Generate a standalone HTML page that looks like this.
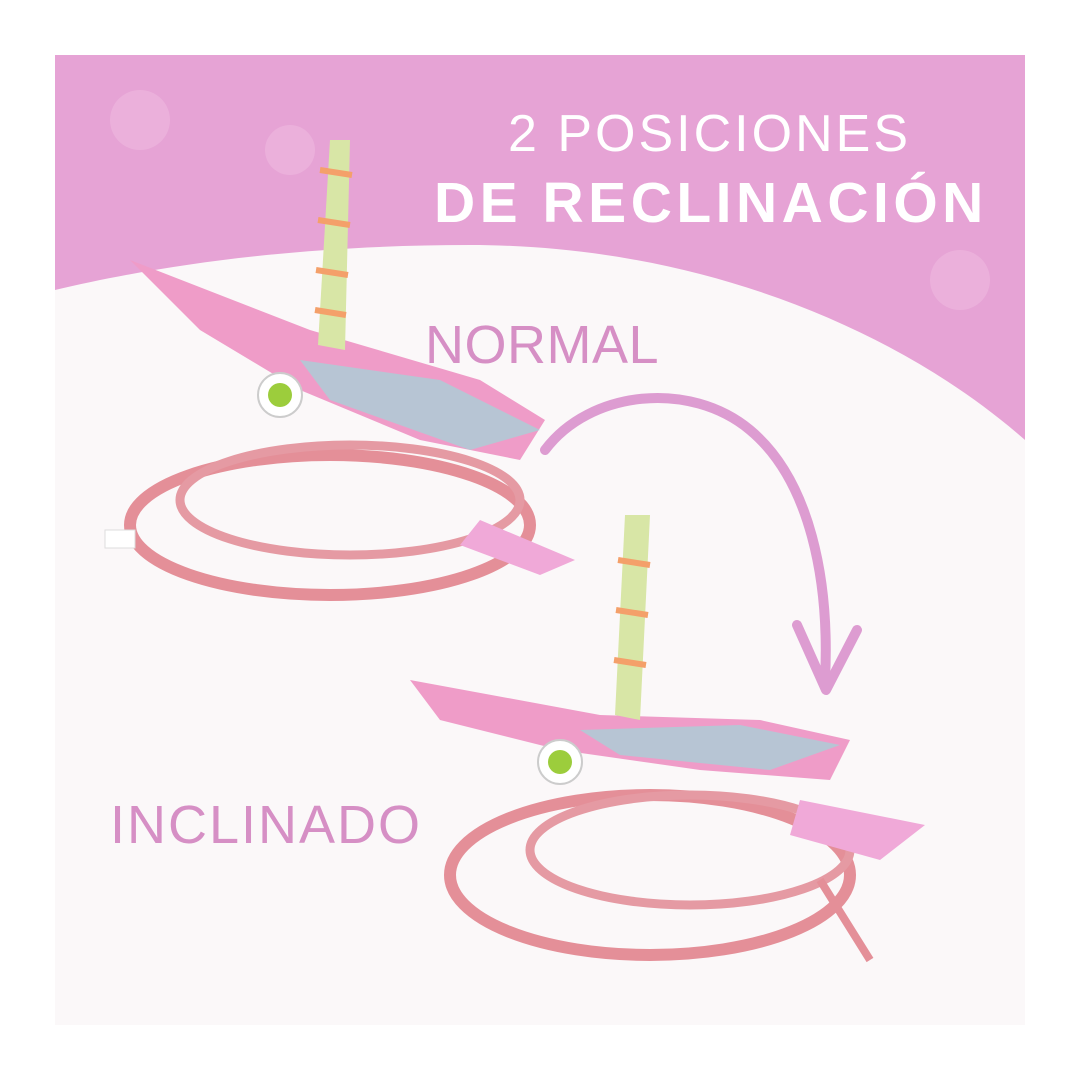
<!DOCTYPE html>
<html><head><meta charset="utf-8"><style>
html,body{margin:0;padding:0;background:#fff;}
.wrap{position:relative;width:1080px;height:1080px;overflow:hidden;background:#fff;font-family:"Liberation Sans",sans-serif;}
.t{position:absolute;white-space:nowrap;}
</style></head><body><div class="wrap">
<svg width="1080" height="1080" style="position:absolute;left:0;top:0">
<rect x="55" y="55" width="970" height="970" fill="#fbf8f9"/>
<path d="M55 55 H1025 V440 C900 330 700 245 470 245 C300 245 160 265 55 290 Z" fill="#e6a3d5"/>
<g fill="#eeb9e0" opacity="0.6">
<circle cx="140" cy="120" r="30"/><circle cx="290" cy="150" r="25"/><circle cx="960" cy="280" r="30"/>
</g>
<path d="M545 450 C590 390 690 380 750 430 C810 480 830 580 825 680" fill="none" stroke="#dd9cd1" stroke-width="10" stroke-linecap="round"/>
<path d="M797 625 L826 690 L857 630" fill="none" stroke="#dd9cd1" stroke-width="10" stroke-linecap="round" stroke-linejoin="round"/>
<g>
<ellipse cx="330" cy="525" rx="200" ry="70" fill="none" stroke="#e48f98" stroke-width="12"/>
<ellipse cx="350" cy="500" rx="170" ry="55" fill="none" stroke="#e59aa3" stroke-width="9"/>
<path d="M130 260 L310 330 L480 380 L545 420 L520 460 L420 440 L300 390 L200 330 Z" fill="#ef9cc8"/>
<path d="M300 360 L440 380 L540 430 L470 450 L330 400 Z" fill="#9fd7d9" opacity="0.7"/>
<path d="M330 140 L350 140 L345 350 L318 345 Z" fill="#d8e6a6"/>
<path d="M320 170 L352 175 M318 220 L350 225 M316 270 L348 275 M315 310 L346 315" stroke="#f4a06a" stroke-width="6"/>
<circle cx="280" cy="395" r="22" fill="#fff" stroke="#ccc" stroke-width="2"/><circle cx="280" cy="395" r="12" fill="#9ccd3c"/>
<path d="M480 520 L575 560 L540 575 L460 545 Z" fill="#f0a9d8"/>
<rect x="105" y="530" width="30" height="18" fill="#fff" stroke="#ddd"/>
</g>
<g>
<ellipse cx="650" cy="875" rx="200" ry="80" fill="none" stroke="#e48f98" stroke-width="12"/>
<ellipse cx="690" cy="850" rx="160" ry="55" fill="none" stroke="#e59aa3" stroke-width="9"/>
<path d="M410 680 L600 715 L760 720 L850 740 L830 780 L700 770 L560 750 L440 720 Z" fill="#ef9cc8"/>
<path d="M580 730 L740 725 L840 745 L770 770 L620 755 Z" fill="#9fd7d9" opacity="0.7"/>
<path d="M625 515 L650 515 L640 720 L615 715 Z" fill="#d8e6a6"/>
<path d="M618 560 L650 565 M616 610 L648 615 M614 660 L646 665" stroke="#f4a06a" stroke-width="6"/>
<circle cx="560" cy="762" r="22" fill="#fff" stroke="#ccc" stroke-width="2"/><circle cx="560" cy="762" r="12" fill="#9ccd3c"/>
<path d="M800 800 L925 825 L880 860 L790 835 Z" fill="#f0a9d8"/>
<path d="M820 880 L870 960" stroke="#e48f98" stroke-width="8"/>
</g>
</svg>
<div class="t" style="left:508px;top:104px;font-size:52px;letter-spacing:3px;color:#fff;">2 POSICIONES</div>
<div class="t" style="left:434px;top:170px;font-size:57px;font-weight:bold;letter-spacing:4.5px;color:#fff;">DE RECLINACIÓN</div>
<div class="t" style="left:425px;top:314px;font-size:54px;letter-spacing:0.5px;color:#d68fc5;">NORMAL</div>
<div class="t" style="left:110px;top:794px;font-size:54px;letter-spacing:2px;color:#d68fc5;">INCLINADO</div>
</div></body></html>
